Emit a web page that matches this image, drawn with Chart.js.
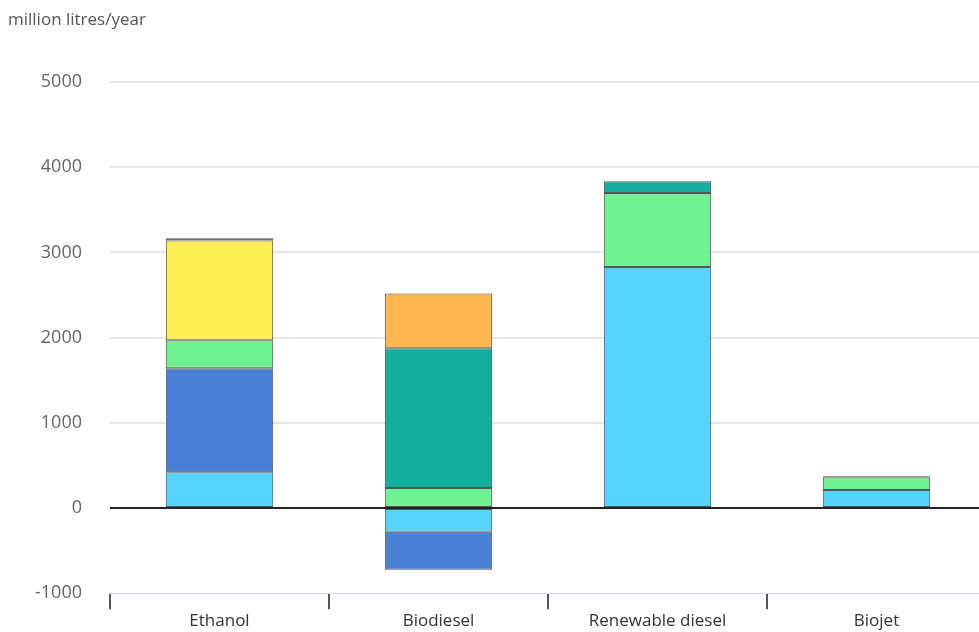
<!DOCTYPE html>
<html>
<head>
<meta charset="utf-8">
<script src="https://cdn.jsdelivr.net/npm/chart.js@4/dist/chart.umd.min.js"></script>
<style>
  html, body { margin: 0; padding: 0; background: #fff; overflow: hidden; }
  #wrap { position: relative; width: 986px; height: 632px; }
  #unit { position: absolute; left: 8px; top: 7px; font: 17px "Open Sans", sans-serif; color: #555; }
</style>
</head>
<body>
<div id="wrap">
  <div id="unit">million litres/year</div>
  <canvas id="c" width="986" height="632"></canvas>
</div>
<script>
// Fuel categories and production change per feedstock (million litres/year)
const categories = ['Ethanol', 'Biodiesel', 'Renewable diesel', 'Biojet'];
const yTicks = [-1000, 0, 1000, 2000, 3000, 4000, 5000];

// null = no segment for that fuel
const seriesCyan   = [420, -280, 2830, 210];
const seriesBlue   = [1220, -445, null, null];
const seriesGreen  = [330, 234, 866, 152];
const seriesTeal   = [null, 1640, 140, null];
const seriesYellow = [1170, null, null, null];
const seriesOrange = [null, 645, null, null];
const seriesDark   = [25, null, null, 10];

const border = 'rgba(30,30,30,0.75)';
function ds(data, color) {
  return { data, backgroundColor: color, borderColor: border, borderWidth: 1,
           borderSkipped: false, categoryPercentage: 1, barPercentage: 0.49 };
}

new Chart(document.getElementById('c'), {
  type: 'bar',
  data: {
    labels: categories,
    datasets: [
      ds(seriesCyan, '#55D4FF'),
      ds(seriesBlue, '#4A80D4'),
      ds(seriesGreen, '#6FF291'),
      ds(seriesTeal, '#12AF9F'),
      ds(seriesYellow, '#FFEF55'),
      ds(seriesOrange, '#FFB84E'),
      ds(seriesDark, '#4a4238')
    ]
  },
  options: {
    responsive: false,
    animation: false,
    layout: { padding: { top: 82, right: 0, left: 0, bottom: 0 } },
    plugins: { legend: { display: false }, tooltip: { enabled: false } },
    scales: {
      x: {
        stacked: true,
        afterFit: (s) => { s.height = 38; },
        grid: { offset: true, drawOnChartArea: false, drawTicks: true, tickLength: 16,
                color: '#555', lineWidth: 2 },
        border: { display: true, color: '#ccd6eb', width: 1 },
        ticks: { color: '#333', font: { family: 'Open Sans', size: 17 }, padding: 2 }
      },
      y: {
        stacked: true,
        min: -1000, max: 5000,
        afterFit: (s) => { s.width = 110; },
        afterBuildTicks: (s) => { s.ticks = yTicks.map(v => ({ value: v })); },
        border: { display: false },
        grid: {
          drawTicks: false,
          color: (ctx) => ctx.tick.value === 0 ? '#222' : (ctx.tick.value === -1000 ? 'rgba(0,0,0,0)' : '#e6e6e6'),
          lineWidth: 2
        },
        ticks: { color: '#666', font: { family: 'Open Sans', size: 18 }, padding: 28,
                 callback: (v) => String(v) }
      }
    }
  }
});
</script>
</body>
</html>
